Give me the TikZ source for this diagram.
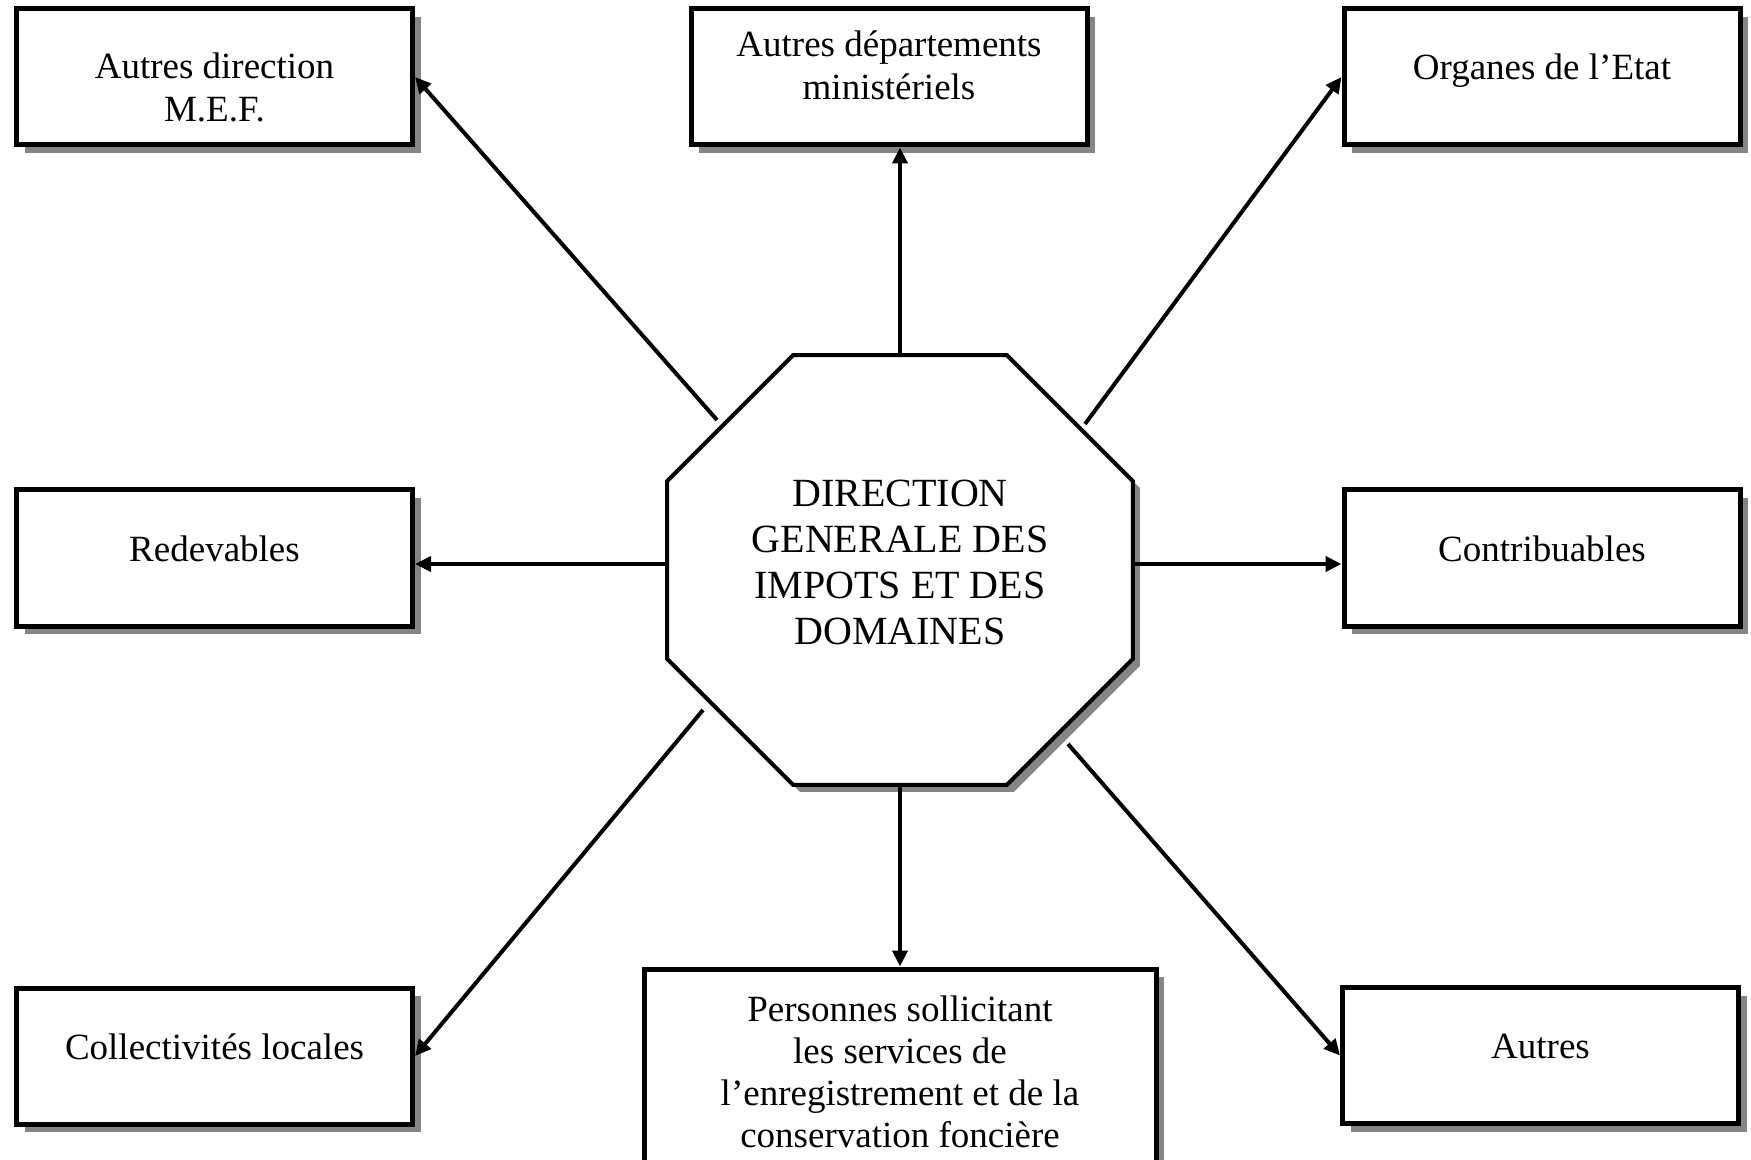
\documentclass[tikz,border=0pt]{standalone}
\usepackage{fontspec}
\setmainfont{Liberation Serif}
\usetikzlibrary{arrows.meta, shadows, backgrounds, calc}

\begin{document}
\begin{tikzpicture}[
    x=0.5pt, y=-0.5pt,
    partner/.style={
        rectangle, draw=black, line width=2.5pt, fill=white,
        minimum width=198pt, minimum height=68pt,
        align=center, font=\fontsize{18.5}{21.5}\selectfont,
        drop shadow={shadow xshift=4pt, shadow yshift=-4pt,
                     fill=black!48, opacity=1}
    },
    ligne/.style={text height=13pt, text depth=10pt},
    centre/.style={
        rectangle, draw=none,
        minimum width=232.5pt, minimum height=214.5pt,
        text height=76pt, text depth=1.5pt,
        align=center, font=\fontsize{20}{23}\selectfont
    },
    octo/.style={
        draw=black, line width=2pt, fill=white,
        drop shadow={shadow xshift=3.5pt, shadow yshift=-3.5pt,
                     fill=black!48, opacity=1}
    },
    flux/.style={-{Triangle[length=8pt, width=7.5pt]}, line width=2pt},
]
\useasboundingbox (0,0) rectangle (1751,1160);

% Direction centrale
\node[centre] (dg) at (900,570)
    {DIRECTION\\GENERALE DES\\IMPOTS ET DES\\DOMAINES};

\begin{pgfonlayer}{background}
\draw[octo] ($(dg.north west)+(126,0)$) -- ($(dg.north east)+(-126,0)$)
    -- ($(dg.north east)+(0,126)$) -- ($(dg.south east)+(0,-126)$)
    -- ($(dg.south east)+(-126,0)$) -- ($(dg.south west)+(126,0)$)
    -- ($(dg.south west)+(0,-126)$) -- ($(dg.north west)+(0,126)$)
    -- cycle;
\end{pgfonlayer}

% Partenaires
\node[partner, text height=44.5pt, text depth=0.3pt] (mef)
    at (214.5,77) {Autres direction\\M.E.F.};
\node[partner, text height=34.4pt, text depth=11.5pt] (dep)
    at (889,77) {Autres départements\\ministériels};
\node[partner, ligne] (etat)   at (1542,77)   {Organes de l’Etat};
\node[partner, ligne] (red)    at (214.5,558) {Redevables};
\node[partner, ligne] (contr)  at (1542,558)  {Contribuables};
\node[partner, ligne] (coll)   at (214.5,1056) {Collectivités locales};
\node[partner, ligne] (autres) at (1540.5,1055.5) {Autres};
\node[partner, minimum width=256pt, minimum height=97.5pt,
      font=\fontsize{18.5}{21}\selectfont,
      text height=82.5pt, text depth=1.5pt] (pers)
    at (900,1066.5)
    {Personnes sollicitant\\les services de\\l’enregistrement et de la\\conservation foncière};

% Départs des flux obliques
\coordinate (d-mef)    at (717,420);
\coordinate (d-etat)   at (1085,424);
\coordinate (d-coll)   at (703,710);
\coordinate (d-autres) at (1068,744);

% Flux
\draw[flux] (dg.north) -- (dg.north |- dep.south);
\draw[flux] (dg.south) -- (dg.south |- pers.north);
\draw[flux] ([yshift=3pt]dg.west) -- ([yshift=3pt]dg.west -| red.east);
\draw[flux] ([yshift=3pt]dg.east) -- ([yshift=3pt]dg.east -| contr.west);
\draw[flux] (d-mef) -- (mef.east);
\draw[flux] (d-etat) -- (etat.west);
\draw[flux] (d-coll) -- (coll.east);
\draw[flux] (d-autres) -- (autres.west);

\end{tikzpicture}
\end{document}
